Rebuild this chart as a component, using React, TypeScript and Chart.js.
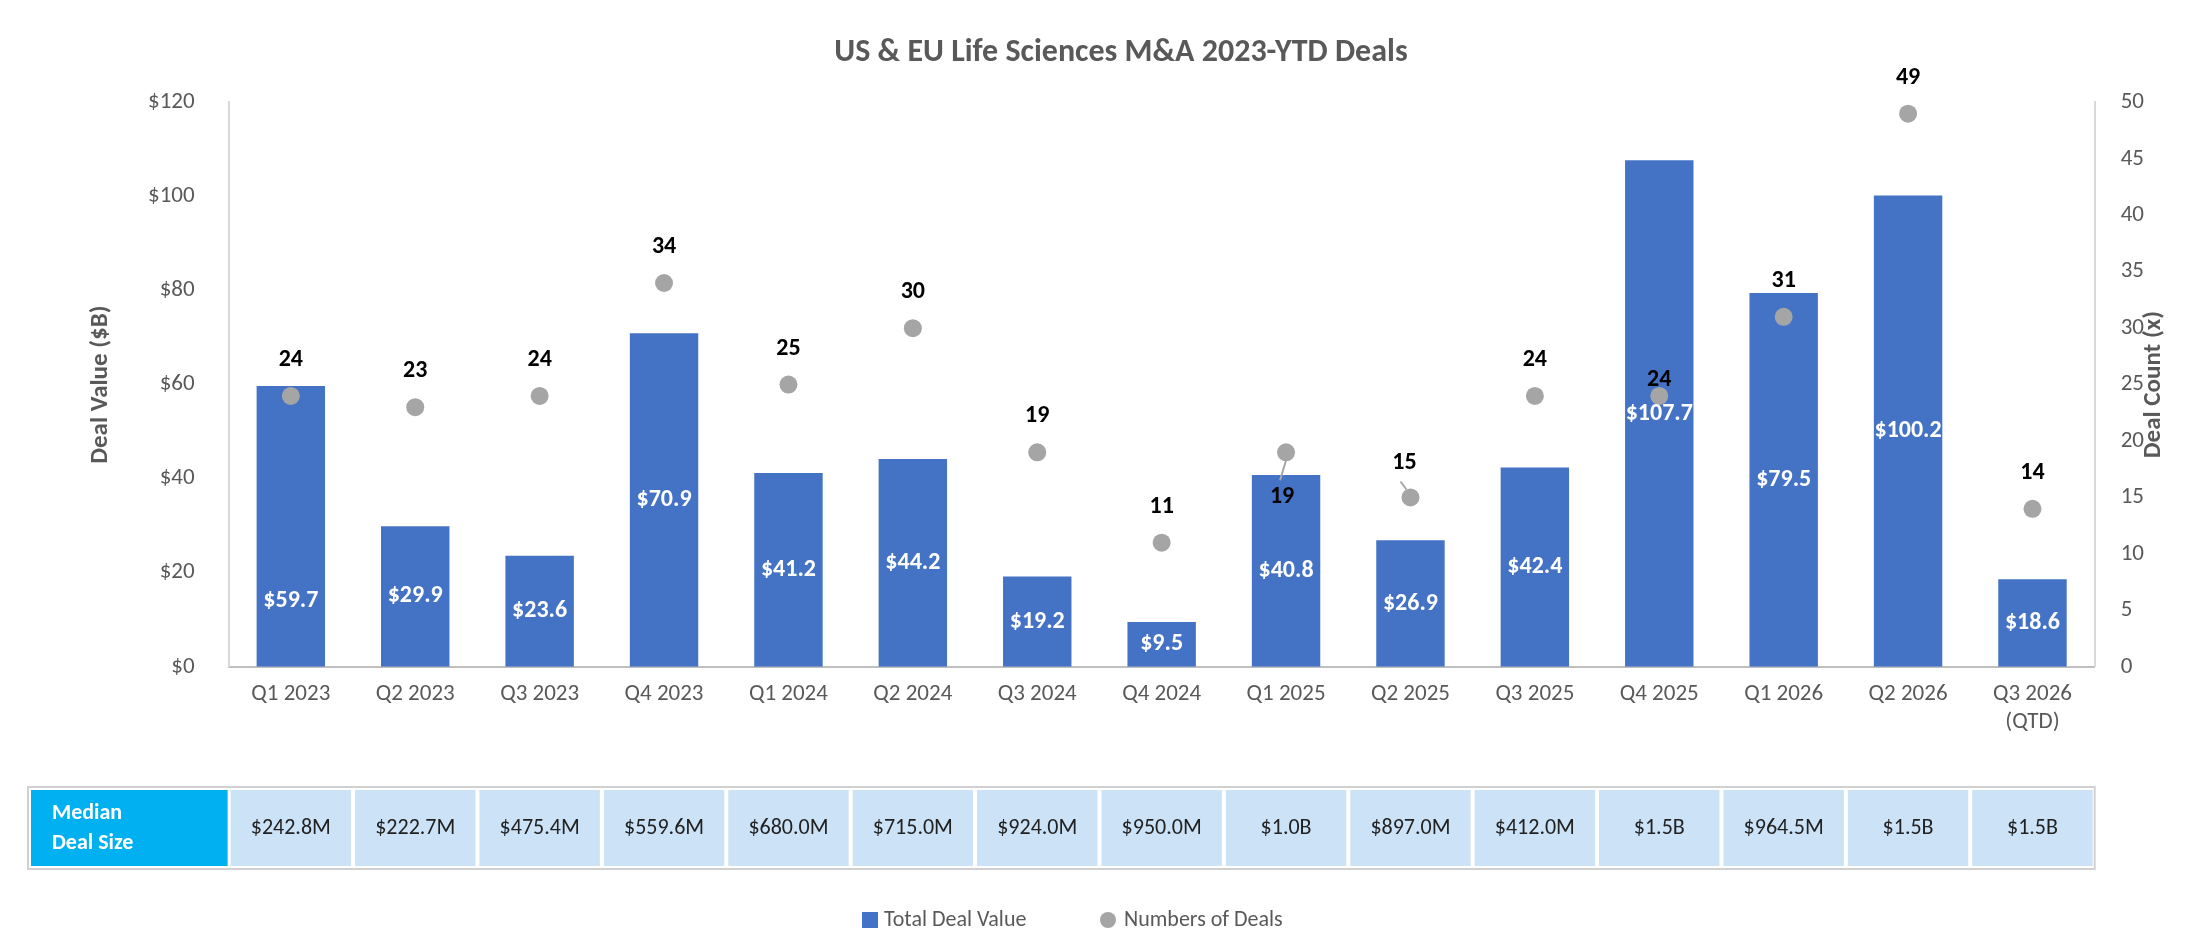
import React, { useEffect, useRef } from "react";
import { Chart, registerables } from "chart.js";
Chart.register(...registerables);

const categories: (string | string[])[] = ["Q1 2023","Q2 2023","Q3 2023","Q4 2023","Q1 2024","Q2 2024","Q3 2024","Q4 2024","Q1 2025","Q2 2025","Q3 2025","Q4 2025","Q1 2026","Q2 2026",["Q3 2026","(QTD)"]];
const dealValue = [59.7,29.9,23.6,70.9,41.2,44.2,19.2,9.5,40.8,26.9,42.4,107.7,79.5,100.2,18.6];
const dealCount = [24,23,24,34,25,30,19,11,19,15,24,24,31,49,14];
const medianSize = ["$242.8M","$222.7M","$475.4M","$559.6M","$680.0M","$715.0M","$924.0M","$950.0M","$1.0B","$897.0M","$412.0M","$1.5B","$964.5M","$1.5B","$1.5B"];

const FONT = "Calibri, Carlito, 'Open Sans', 'Liberation Sans', sans-serif";
const GRAY = "#595959";

const overlay = {
  id: "overlay",
  afterDraw(chart: any) {
    const ctx = chart.ctx;
    const x = chart.scales.x, yR = chart.scales.y1;
    const bars = chart.getDatasetMeta(0).data;
    const pts = chart.getDatasetMeta(1).data;
    ctx.save();
    ctx.font = `bold 24px ${FONT}`;
    ctx.fillStyle = "#fff";
    ctx.textAlign = "center";
    ctx.textBaseline = "middle";
    bars.forEach((b: any, i: number) => {
      const mid = (b.y + b.base) / 2;
      ctx.fillText("$" + dealValue[i].toFixed(1), b.x, i === 0 ? mid + 75 : mid);
    });
    ctx.fillStyle = "#000";
    pts.forEach((p: any, i: number) => {
      if (i === 8) {
        ctx.strokeStyle = "#a6a6a6"; ctx.lineWidth = 2;
        ctx.beginPath(); ctx.moveTo(p.x, p.y + 8); ctx.lineTo(p.x - 6, p.y + 28); ctx.stroke();
        ctx.fillText(String(dealCount[i]), p.x - 4, p.y + 45);
      } else if (i === 11) {
        ctx.fillText(String(dealCount[i]), p.x, p.y - 16);
      } else if (i === 9) {
        ctx.strokeStyle = "#a6a6a6"; ctx.lineWidth = 2;
        ctx.beginPath(); ctx.moveTo(p.x - 4, p.y - 8); ctx.lineTo(p.x - 10, p.y - 16); ctx.stroke();
        ctx.fillText(String(dealCount[i]), p.x - 6, p.y - 34);
      } else {
        ctx.fillText(String(dealCount[i]), p.x, p.y - 36);
      }
    });
    // right axis title overlapping ticks
    ctx.save();
    ctx.translate(yR.right - 8, (yR.top + yR.bottom) / 2);
    ctx.rotate(-Math.PI / 2);
    ctx.fillStyle = GRAY;
    ctx.font = `bold 25px ${FONT}`;
    ctx.fillText("Deal Count (x)", 0, 0);
    ctx.restore();
    // table
    const top = 787, h = 82;
    const step = x.getPixelForValue(1) - x.getPixelForValue(0);
    const tLeft = 28, tRight = x.getPixelForValue(14) + step / 2;
    ctx.strokeStyle = "#d0d0d0"; ctx.lineWidth = 2;
    ctx.strokeRect(tLeft, top, tRight - tLeft, h);
    const firstCellRight = x.getPixelForValue(0) - step / 2;
    ctx.fillStyle = "#00B0F0";
    ctx.fillRect(tLeft + 3, top + 3, firstCellRight - tLeft - 4, h - 6);
    ctx.fillStyle = "#fff";
    ctx.textAlign = "left";
    ctx.font = `bold 22px ${FONT}`;
    ctx.fillText("Median", tLeft + 24, top + 26);
    ctx.fillText("Deal Size", tLeft + 24, top + 56);
    ctx.textAlign = "center";
    ctx.font = `22px ${FONT}`;
    medianSize.forEach((m, i) => {
      const cx = x.getPixelForValue(i);
      ctx.fillStyle = "#cce2f7";
      ctx.fillRect(cx - step / 2 + 2, top + 3, step - 4, h - 6);
      ctx.fillStyle = "#222";
      ctx.fillText(m, cx, top + h / 2);
    });
    // legend
    const ly = 920;
    ctx.font = `22px ${FONT}`;
    ctx.fillStyle = "#4472C4";
    ctx.fillRect(862, ly - 8, 16, 16);
    ctx.fillStyle = GRAY; ctx.textAlign = "left";
    ctx.fillText("Total Deal Value", 884, ly);
    ctx.fillStyle = "#a5a5a5";
    ctx.beginPath(); ctx.arc(1108, ly, 8, 0, Math.PI * 2); ctx.fill();
    ctx.fillStyle = GRAY;
    ctx.fillText("Numbers of Deals", 1124, ly);
    ctx.restore();
  },
};

export default function App() {
  const ref = useRef<HTMLCanvasElement>(null);
  useEffect(() => {
    const chart = new Chart(ref.current!, {
      type: "bar",
      data: {
        labels: categories,
        datasets: [
          { type: "bar", label: "Total Deal Value", data: dealValue, backgroundColor: "#4472C4", yAxisID: "y", categoryPercentage: 1, barPercentage: 0.55, order: 2 },
          { type: "line", label: "Numbers of Deals", data: dealCount, yAxisID: "y1", showLine: false, pointRadius: 9, pointBackgroundColor: "#a5a5a5", pointBorderWidth: 0, order: 1 } as any,
        ],
      },
      options: {
        animation: false,
        responsive: false,
        layout: { padding: { top: 20, left: 80, right: 36, bottom: 196 } },
        plugins: {
          legend: { display: false },
          tooltip: { enabled: false },
          title: { display: true, text: "US & EU Life Sciences M&A 2023-YTD Deals", color: GRAY, font: { family: FONT, size: 32, weight: "bold" }, padding: { top: 14, bottom: 30 } },
        },
        scales: {
          x: {
            grid: { display: false, drawTicks: false },
            border: { color: "#bfbfbf", width: 2 },
            ticks: { color: GRAY, font: { family: FONT, size: 23 }, padding: 14, maxRotation: 0, autoSkip: false },
          },
          y: {
            min: 0, max: 120,
            grid: { display: false },
            border: { color: "#d9d9d9", width: 2 },
            ticks: { stepSize: 20, color: GRAY, font: { family: FONT, size: 23 }, padding: 26, callback: (v: any) => "$" + v },
            title: { display: true, text: "Deal Value ($B)", color: GRAY, font: { family: FONT, size: 25, weight: "bold" }, padding: 6 },
          },
          y1: {
            position: "right", min: 0, max: 50,
            grid: { display: false },
            border: { color: "#d9d9d9", width: 2 },
            ticks: { stepSize: 5, color: GRAY, font: { family: FONT, size: 23 }, padding: 18 },
          },
        },
      } as any,
      plugins: [overlay],
    });
    return () => chart.destroy();
  }, []);
  return (
    <div style={{ position: "fixed", left: 0, top: 0, width: 2198, height: 946, background: "#fff" }}>
      <canvas ref={ref} width={2198} height={946} style={{ width: 2198, height: 946 }} />
    </div>
  );
}
